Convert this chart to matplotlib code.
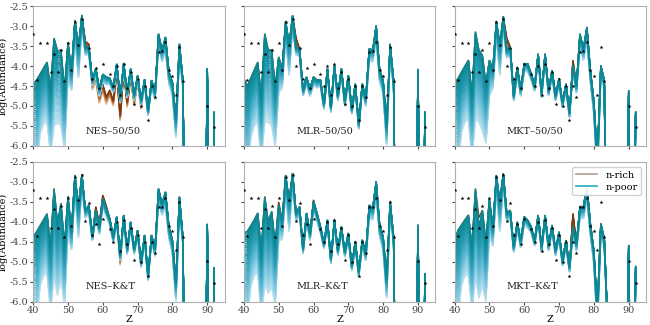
import numpy as np
import matplotlib
matplotlib.use("Agg")
import matplotlib.pyplot as plt
from matplotlib.colors import LinearSegmentedColormap
from matplotlib.lines import Line2D
from matplotlib.ticker import FormatStrFormatter

# ── observed abundances (black stars) ──────────────────────────────
z_obs = [40, 41, 42, 44, 45, 46, 47, 48, 49, 50, 51, 52, 53, 54, 55, 56, 57,
         58, 59, 60, 62, 63, 64, 65, 66, 67, 68, 69, 70, 71, 72, 73, 74, 75,
         76, 77, 78, 79, 80, 81, 82, 83, 90, 92]
log_obs = [-3.20, -4.36, -3.41, -3.41, -4.15, -3.69, -4.15, -3.60, -4.37,
           -3.41, -4.11, -2.89, -3.46, -2.83, -3.99, -3.54, -4.32, -4.05,
           -4.56, -3.94, -4.19, -4.51, -4.00, -4.73, -3.96, -4.56, -4.15,
           -4.96, -4.32, -5.00, -4.50, -5.36, -4.50, -4.78, -3.64, -3.63,
           -3.40, -4.11, -4.24, -4.72, -3.51, -4.37, -4.99, -5.53]

# ── model curves, Z = 40..92 (upper / darkest n-poor line) ─────────
z_mod = list(range(40, 93))

nes_5050 = [-4.45, -4.35, -4.20, -4.05, -3.90, -4.60, -3.30, -3.62, -3.60, -4.60,
            -3.40, -4.12, -2.85, -3.50, -2.72, -3.52, -3.52, -4.35, -4.05, -4.56,
            -4.20, -4.27, -4.30, -4.52, -3.94, -4.78, -3.92, -4.65, -4.06, -4.72,
            -4.23, -4.85, -4.33, -5.10, -4.35, -4.65, -3.19, -3.60, -3.27, -4.15,
            -4.40, -5.30, -3.44, -4.35,
            -12.0, -12.0, -12.0, -12.0, -12.0, -12.0, -4.05, -12.0, -5.15]
mlr_5050 = [-4.31, -4.50, -4.30, -4.10, -3.90, -4.77, -3.19, -3.60, -3.60, -4.52,
            -3.77, -4.06, -2.87, -3.44, -2.73, -3.52, -3.56, -4.60, -4.27, -4.56,
            -4.27, -4.35, -4.35, -4.94, -4.06, -5.02, -3.98, -4.73, -4.06, -4.86,
            -4.23, -5.06, -4.44, -5.44, -4.44, -4.81, -3.56, -3.60, -2.98, -4.10,
            -4.35, -5.48, -3.44, -4.35,
            -12.0, -12.0, -12.0, -12.0, -12.0, -12.0, -4.07, -12.0, -5.15]
mkt_5050 = [-4.44, -4.31, -4.15, -4.00, -3.85, -4.70, -3.14, -3.60, -3.73, -4.44,
            -3.85, -4.06, -2.87, -3.44, -2.75, -3.60, -3.52, -4.73, -4.02, -4.56,
            -3.94, -3.94, -4.19, -4.48, -3.69, -4.65, -3.69, -4.60, -4.10, -4.73,
            -4.31, -4.90, -4.44, -5.15, -3.98, -4.48, -3.19, -3.56, -3.02, -4.10,
            -4.86, -6.30, -3.98, -4.35,
            -12.0, -12.0, -12.0, -12.0, -12.0, -12.0, -4.60, -12.0, -5.15]
nes_kt = [-4.38, -4.25, -4.10, -3.95, -3.80, -4.62, -3.17, -4.04, -3.54, -4.58,
          -3.36, -4.21, -2.83, -3.60, -2.81, -3.71, -3.58, -4.33, -3.71, -4.12,
          -3.42, -3.67, -3.92, -4.37, -3.87, -4.83, -3.83, -4.67, -4.00, -4.67,
          -4.21, -5.00, -4.33, -5.33, -4.33, -4.67, -3.17, -3.54, -3.25, -4.12,
          -4.46, -5.50, -3.37, -4.38,
          -12.0, -12.0, -12.0, -12.0, -12.0, -12.0, -4.05, -12.0, -5.15]
mlr_kt = [-4.28, -4.24, -4.10, -3.95, -3.78, -4.74, -3.37, -3.99, -3.74, -4.58,
          -3.58, -3.95, -2.83, -3.45, -2.78, -3.78, -3.62, -4.66, -3.78, -4.28,
          -3.49, -3.78, -4.12, -4.53, -3.95, -4.91, -3.95, -4.70, -4.12, -4.74,
          -4.28, -5.08, -4.49, -5.24, -4.45, -4.78, -3.58, -3.66, -2.98, -4.08,
          -4.37, -5.41, -3.49, -4.37,
          -12.0, -12.0, -12.0, -12.0, -12.0, -12.0, -4.07, -12.0, -5.30]
mkt_kt = [-4.46, -4.21, -4.08, -3.95, -3.83, -4.62, -3.17, -4.12, -3.71, -4.50,
          -3.42, -4.12, -2.83, -3.46, -2.79, -3.79, -3.71, -4.62, -4.00, -4.46,
          -3.87, -3.96, -4.12, -4.46, -3.83, -4.62, -3.83, -4.58, -4.08, -4.71,
          -4.25, -4.96, -4.46, -5.12, -4.12, -4.54, -3.62, -3.62, -3.08, -4.04,
          -4.71, -6.20, -4.04, -4.42,
          -6.60, -12.0, -12.0, -12.0, -12.0, -12.0, -4.58, -12.0, -5.12]

# depth of the lightest line below the darkest one (read per Z)
abanico = [2.0, 2.2, 1.5, 1.4, 1.5, 1.6, 2.2, 1.8, 1.9, 1.5,
           0.9, 0.5, 0.4, 0.8, 0.3, 0.2, 0.2, 0.15, 0.2, 0.2,
           0.2, 0.2, 0.15, 0.15, 0.15, 0.15, 0.15, 0.15, 0.15, 0.15,
           0.15, 0.15, 0.15, 0.15, 0.15, 0.2, 0.3, 0.3, 0.35, 0.3,
           0.35, 0.5, 0.3, 0.2,
           0.3, 0.3, 0.3, 0.3, 0.3, 0.3, 0.4, 0.3, 0.3]

# where the n-rich ensemble departs from the n-poor one {Z: value}
rico_nes_5050 = {55: -3.38, 56: -3.45, 57: -4.45, 58: -4.20, 59: -4.75,
                 60: -4.45, 61: -4.77, 62: -4.60, 63: -4.86, 64: -4.10,
                 65: -5.23, 66: -4.05, 67: -4.90, 68: -4.20, 69: -4.85,
                 70: -4.30, 71: -4.95}
rico_mlr_5050 = {55: -3.30}
rico_mkt_5050 = {55: -3.30, 74: -3.85}
rico_nes_kt = {58: -3.62, 59: -4.05, 60: -3.33, 61: -3.60, 65: -4.95}
rico_mlr_kt = {50: -3.50, 60: -3.45}
rico_mkt_kt = {47: -3.90, 74: -3.79}

paneles = [
    ("NES\u201350/50", nes_5050, rico_nes_5050),
    ("MLR\u201350/50", mlr_5050, rico_mlr_5050),
    ("MKT\u201350/50", mkt_5050, rico_mkt_5050),
    ("NES\u2013K&T", nes_kt, rico_nes_kt),
    ("MLR\u2013K&T", mlr_kt, rico_mlr_kt),
    ("MKT\u2013K&T", mkt_kt, rico_mkt_kt),
]

cmap_pobre = LinearSegmentedColormap.from_list(
    "pobre", ["#bde3f2", "#6cc0da", "#2a9fb6", "#0b8894"])
cmap_rico = LinearSegmentedColormap.from_list(
    "rico", ["#f0d6b8", "#c98450", "#7d3a12"])

plt.rcParams['font.family'] = ['DejaVu Serif']
plt.rcParams['font.size'] = 7
plt.rcParams['axes.unicode_minus'] = False
plt.rcParams['axes.edgecolor'] = '#b0b0b0'
plt.rcParams['xtick.color'] = '#444444'
plt.rcParams['ytick.color'] = '#444444'
plt.rcParams['xtick.major.size'] = 2
plt.rcParams['ytick.major.size'] = 2
plt.rcParams['xtick.major.pad'] = 1.2
plt.rcParams['ytick.major.pad'] = 1.5


def dibujar_ensemble(ax, z, arriba, abanico, cmap, n=45):
    # lineas claras primero, la mas oscura queda encima
    arriba = np.asarray(arriba)
    ancho = np.asarray(abanico)
    for i in range(n):
        t = i / (n - 1)
        ax.plot(z, arriba - ancho * (1 - t), color=cmap(t), lw=1.0,
                solid_joinstyle='miter')


fig, axes = plt.subplots(2, 3, figsize=(6.5, 3.25), dpi=100,
                         sharex=True, sharey=True)
fig.subplots_adjust(left=0.051, right=0.994, top=0.981, bottom=0.072,
                    wspace=0.1, hspace=0.114)

for ax, (nombre, pobre, cambios) in zip(axes.flat, paneles):
    rico = list(pobre)
    for z, v in cambios.items():
        rico[z_mod.index(z)] = v
    dibujar_ensemble(ax, z_mod, rico, abanico, cmap_rico, n=12)
    dibujar_ensemble(ax, z_mod, pobre, abanico, cmap_pobre)
    ax.plot(z_obs, log_obs, '*', color='black', ms=3, mew=0, zorder=5)
    ax.text(55, -5.62, nombre, ha='left', va='center', fontsize=7, color='#222222')
    ax.set_xlim(40, 95)
    ax.set_ylim(-6, -2.5)
    ax.set_xticks([40, 50, 60, 70, 80, 90])
    ax.set_yticks(np.arange(-6, -2.49, 0.5))
    ax.yaxis.set_major_formatter(FormatStrFormatter('%.1f'))

for ax in axes[:, 0]:
    ax.set_ylabel('log(Abundance)', labelpad=1)
for ax in axes[1, :]:
    ax.set_xlabel('Z', labelpad=0)

manijas = [Line2D([0], [0], color='#bca597', lw=1.3),
           Line2D([0], [0], color='#35b4c6', lw=1.3)]
axes[1, 2].legend(manijas, ['n-rich', 'n-poor'], loc='upper right',
                  fontsize=7, handlelength=2.2, borderpad=0.4,
                  labelspacing=0.3, framealpha=0.9, edgecolor='#cccccc')

plt.savefig('out.png', dpi=100)
